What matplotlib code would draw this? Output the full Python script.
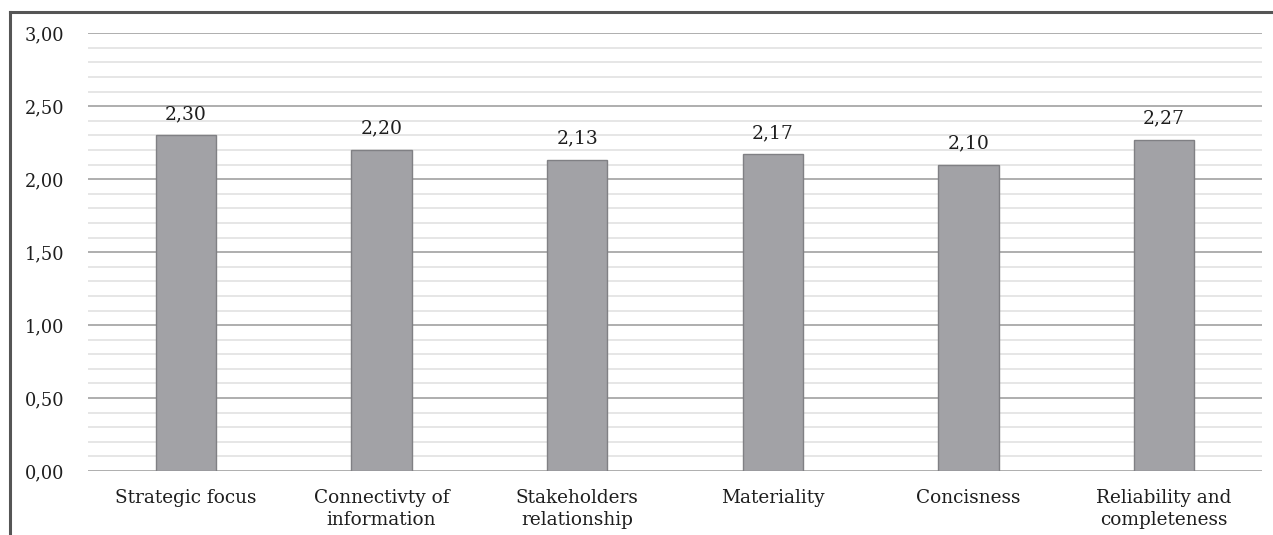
import matplotlib.pyplot as plt
from matplotlib.lines import Line2D
from matplotlib.ticker import MultipleLocator, FuncFormatter

# integrated reporting principles, mean scores
categories = ["Strategic focus", "Connectivty of\ninformation", "Stakeholders\nrelationship",
              "Materiality", "Concisness", "Reliability and\ncompleteness"]
scores = [2.30, 2.20, 2.13, 2.17, 2.10, 2.27]

plt.rcParams['font.family'] = ['DejaVu Serif']
plt.rcParams['font.size'] = 12

fig = plt.figure(figsize=(12.73, 5.35), dpi=100)
ax = fig.add_axes([88 / 1273, 64 / 535, (1262 - 88) / 1273, (471 - 33.3) / 535])

x = range(len(categories))
bars = ax.bar(x, scores, width=0.307, color='#a2a2a6', edgecolor='#808084', linewidth=1.0, zorder=3)

# value labels above each bar, decimal comma
for xi, v in zip(x, scores):
    ax.annotate(f"{v:.2f}".replace('.', ','), (xi, v), xytext=(0, 15.5), textcoords='offset points',
                ha='center', va='center', fontsize=13.5, color='#1e1e1e')

ax.set_xlim(-0.5, len(categories) - 0.5)
ax.set_ylim(0, 3.0)
ax.yaxis.set_major_locator(MultipleLocator(0.5))
ax.yaxis.set_minor_locator(MultipleLocator(0.1))
ax.yaxis.set_major_formatter(FuncFormatter(lambda v, p: f"{v:.2f}".replace('.', ',')))
ax.grid(axis='y', which='major', color='#a8a8a8', linewidth=1.3, zorder=0)
ax.grid(axis='y', which='minor', color='#e2e2e2', linewidth=1.2, zorder=0)

ax.set_xticks(list(x))
ax.set_xticklabels(categories, fontsize=13.3, color='#1e1e1e', linespacing=1.3)
ax.tick_params(axis='x', length=0, pad=13)
ax.tick_params(axis='y', which='both', length=0, pad=17, labelsize=12.8, labelcolor='#1e1e1e')

for s in ax.spines.values():
    s.set_visible(False)

# frame lines along the top and left edge of the figure
fig.add_artist(Line2D([10 / 1273, 1.0], [1 - 12 / 535, 1 - 12 / 535], transform=fig.transFigure,
                      color='#555555', linewidth=2.2))
fig.add_artist(Line2D([10 / 1273, 10 / 1273], [0.0, 1 - 12 / 535], transform=fig.transFigure,
                      color='#555555', linewidth=2.2))

fig.savefig('out.png', dpi=100)
